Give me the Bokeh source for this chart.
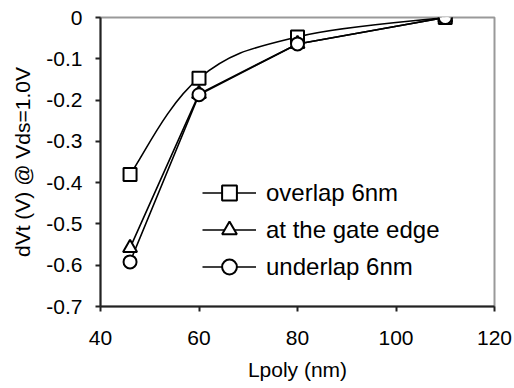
from bokeh.plotting import figure
from bokeh.models import Range1d, FixedTicker, CustomJSTickFormatter, Legend, LegendItem, ColumnDataSource
from bokeh.embed import file_html
from bokeh.resources import INLINE

# ---- data ----
lpoly = [46, 60, 80, 110]
overlap_6nm = [-0.380, -0.147, -0.047, 0.0]
gate_edge = [-0.558, -0.185, -0.064, 0.0]
underlap_6nm = [-0.592, -0.187, -0.064, 0.0]
x_ticks = [40, 60, 80, 100, 120]
y_ticks = [-0.7, -0.6, -0.5, -0.4, -0.3, -0.2, -0.1, 0.0]
names = ["overlap 6nm", "at the gate edge", "underlap 6nm"]

FONT = "Liberation Sans"

p = figure(width=514, height=388, output_backend="svg", toolbar_location=None,
           x_range=Range1d(40, 120), y_range=Range1d(-0.7, 0.0),
           min_border_left=100, min_border_right=20, min_border_top=17, min_border_bottom=82)
p.background_fill_color = "white"
p.border_fill_color = "white"
p.grid.visible = False
p.outline_line_color = "#999999"
p.outline_line_width = 2

for ax in (p.xaxis[0], p.yaxis[0]):
    ax.axis_line_color = "#222222"
    ax.axis_line_width = 2
    ax.major_tick_line_color = "#222222"
    ax.major_tick_line_width = 2
    ax.major_tick_in = 0
    ax.major_tick_out = 5
    ax.minor_tick_line_color = None
    ax.major_label_text_font = FONT
    ax.major_label_text_font_size = "21px"
    ax.major_label_text_color = "black"
    ax.axis_label_text_font = FONT
    ax.axis_label_text_font_size = "21px"
    ax.axis_label_text_font_style = "normal"
    ax.axis_label_text_color = "black"

p.xaxis.ticker = FixedTicker(ticks=x_ticks)
p.yaxis.ticker = FixedTicker(ticks=y_ticks)
p.yaxis.formatter = CustomJSTickFormatter(code="return Math.abs(tick) < 1e-9 ? '0' : tick.toFixed(1);")
p.xaxis.axis_label = "Lpoly (nm)"
p.yaxis.axis_label = "dVt (V) @ Vds=1.0V"
p.xaxis.major_label_standoff = 19
p.yaxis.major_label_standoff = 13
p.xaxis.axis_label_standoff = 10
p.yaxis.axis_label_standoff = 9


def smooth_segments(xs, ys, k=0.19):
    n = len(xs)
    seg = dict(x0=[], y0=[], x1=[], y1=[], cx0=[], cy0=[], cx1=[], cy1=[])
    for i in range(n - 1):
        ip = max(i - 1, 0)
        inx = min(i + 2, n - 1)
        seg["x0"].append(xs[i]); seg["y0"].append(ys[i])
        seg["x1"].append(xs[i + 1]); seg["y1"].append(ys[i + 1])
        seg["cx0"].append(xs[i] + (xs[i + 1] - xs[ip]) * k)
        seg["cy0"].append(ys[i] + (ys[i + 1] - ys[ip]) * k)
        seg["cx1"].append(xs[i + 1] - (xs[inx] - xs[i]) * k)
        seg["cy1"].append(ys[i + 1] - (ys[inx] - ys[i]) * k)
    return ColumnDataSource(seg)


lw = 1.6
r_ov_line = p.bezier(x0="x0", y0="y0", x1="x1", y1="y1", cx0="cx0", cy0="cy0", cx1="cx1", cy1="cy1",
                     source=smooth_segments(lpoly, overlap_6nm), line_color="black", line_width=lw)
r_un_line = p.line(lpoly, underlap_6nm, line_color="black", line_width=lw)
r_ga_line = p.line(lpoly, gate_edge, line_color="black", line_width=lw)

r_ov_m = p.scatter(lpoly, overlap_6nm, marker="square", size=13, fill_color="white",
                   line_color="black", line_width=2)
r_ga_m = p.scatter(lpoly, gate_edge, marker="triangle", size=14, fill_color="white",
                   line_color="black", line_width=2)
r_un_m = p.scatter(lpoly, underlap_6nm, marker="circle", size=13, fill_color="white",
                   line_color="black", line_width=2)

legend = Legend(items=[
    LegendItem(label=names[0], renderers=[r_ga_line, r_ov_m]),
    LegendItem(label=names[1], renderers=[r_ga_line, r_ga_m]),
    LegendItem(label=names[2], renderers=[r_un_line, r_un_m]),
], location=(102, 21))
legend.padding = 0
legend.margin = 0
legend.spacing = 0
legend.glyph_width = 54
legend.glyph_height = 37
legend.label_height = 37
legend.label_standoff = 10
legend.label_text_font = FONT
legend.label_text_font_size = "24px"
legend.label_text_color = "black"
legend.border_line_color = None
legend.background_fill_alpha = 0
p.add_layout(legend, "center")

open("out.html", "w").write(file_html(p, INLINE))
